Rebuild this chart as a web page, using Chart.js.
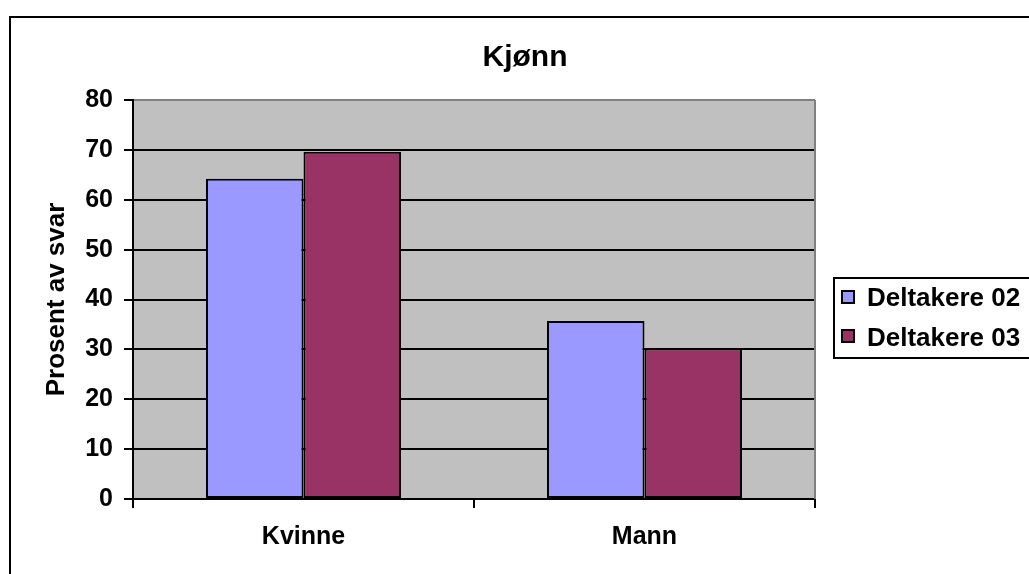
<!DOCTYPE html>
<html>
<head>
<meta charset="utf-8">
<script src="https://cdn.jsdelivr.net/npm/chart.js@4/dist/chart.umd.min.js"></script>
<style>
    body { margin: 0; background: #ffffff; }
    #kjonnGraph { display: block; }
</style>
</head>
<body>
<canvas id="kjonnGraph" width="1029" height="574"></canvas>
<script>
//data section
const categoryLabels = ['Kvinne', 'Mann'];
const deltakere02 = [64.2, 35.7];
const deltakere03 = [69.6, 30.2];
const seriesNames = ['Deltakere 02', 'Deltakere 03'];
const yTickMax = 80;
const yTickStep = 10;

const fontFamily = '"Liberation Sans", Arial, sans-serif';

//grey plot area + frame round the chart
const plotArea = {
    id: 'plotArea',
    beforeDraw(chart) {
        const ctx = chart.ctx;
        const a = chart.chartArea;
        ctx.save();
        ctx.fillStyle = '#c0c0c0';
        ctx.fillRect(a.left, a.top, a.right - a.left, a.bottom - a.top);
        ctx.restore();
    },
    beforeDatasetsDraw(chart) {
        const ctx = chart.ctx;
        const a = chart.chartArea;
        ctx.save();
        ctx.strokeStyle = '#808080';
        ctx.lineWidth = 2;
        ctx.beginPath();
        ctx.moveTo(a.right, a.top);
        ctx.lineTo(a.right, a.bottom);
        ctx.stroke();
        ctx.restore();
    },
    afterDraw(chart) {
        const ctx = chart.ctx;
        ctx.save();
        ctx.strokeStyle = '#000000';
        ctx.lineWidth = 2;
        ctx.strokeRect(10, 17, 1100, 600);

        //title
        ctx.fillStyle = '#000000';
        ctx.font = 'bold 30px ' + fontFamily;
        ctx.textAlign = 'center';
        ctx.textBaseline = 'alphabetic';
        ctx.fillText('Kjønn', 525, 66);
        ctx.restore();
    }
};

//legend box on the right, excel style
const boxLegend = {
    id: 'boxLegend',
    afterDraw(chart) {
        const ctx = chart.ctx;
        ctx.save();
        ctx.strokeStyle = '#000000';
        ctx.lineWidth = 2;
        ctx.strokeRect(834, 278, 300, 80);
        ctx.font = 'bold 26px ' + fontFamily;
        ctx.textAlign = 'left';
        ctx.textBaseline = 'alphabetic';
        chart.data.datasets.forEach((ds, i) => {
            const y = 291 + i * 39;
            ctx.fillStyle = ds.backgroundColor;
            ctx.fillRect(842, y, 12, 12);
            ctx.lineWidth = 2;
            ctx.strokeRect(842, y, 12, 12);
            ctx.fillStyle = '#000000';
            ctx.fillText(ds.label, 867, 306 + i * 40);
        });
        ctx.restore();
    }
};

const kjonnGraphGenerator = () => {
    var ctx = document.getElementById('kjonnGraph').getContext('2d');
    var chart = new Chart(ctx, {
        type: 'bar',
        data: {
            labels: categoryLabels,
            datasets: [{
                label: seriesNames[0],
                backgroundColor: '#9999ff',
                borderColor: '#000000',
                borderWidth: 2,
                borderSkipped: false,
                data: deltakere02
            }, {
                label: seriesNames[1],
                backgroundColor: '#993366',
                borderColor: '#000000',
                borderWidth: 2,
                borderSkipped: false,
                data: deltakere03
            }]
        },
        options: {
            responsive: false,
            devicePixelRatio: 1,
            animation: false,
            layout: {
                padding: {
                    left: 0,
                    right: 214,
                    top: 100,
                    bottom: 0
                }
            },
            plugins: {
                legend: { display: false },
                title: { display: false },
                tooltip: { enabled: false }
            },
            datasets: {
                bar: {
                    categoryPercentage: 0.572,
                    barPercentage: 1
                }
            },
            scales: {
                x: {
                    afterFit: (scale) => { scale.height = 75; },
                    grid: {
                        offset: true,
                        drawOnChartArea: false,
                        color: '#000000',
                        lineWidth: 2,
                        tickLength: 9
                    },
                    border: { color: '#000000', width: 2 },
                    ticks: {
                        color: '#000000',
                        padding: 14,
                        font: { family: fontFamily, size: 25, weight: 'bold' }
                    }
                },
                y: {
                    min: 0,
                    max: yTickMax,
                    afterFit: (scale) => { scale.width = 133; },
                    grid: {
                        color: (c) => c.tick && c.tick.value === yTickMax ? '#808080' : '#000000',
                        tickColor: '#000000',
                        lineWidth: 2,
                        tickLength: 9
                    },
                    border: { color: '#000000', width: 2 },
                    ticks: {
                        stepSize: yTickStep,
                        color: '#000000',
                        padding: 11,
                        font: { family: fontFamily, size: 25, weight: 'bold' }
                    },
                    title: {
                        display: true,
                        text: 'Prosent av svar',
                        color: '#000000',
                        padding: { top: 41, bottom: 0 },
                        font: { family: fontFamily, size: 26, weight: 'bold' }
                    }
                }
            }
        },
        plugins: [plotArea, boxLegend]
    });
};
kjonnGraphGenerator()
</script>
</body>
</html>
